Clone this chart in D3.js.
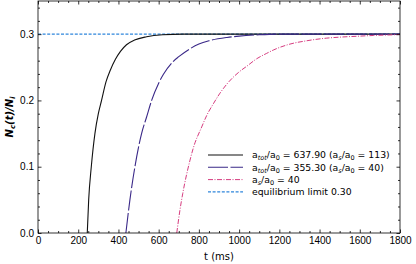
<!DOCTYPE html>
<html>
<head>
<meta charset="utf-8">
<script src="https://cdn.jsdelivr.net/npm/d3@7"></script>
<style>
  body { margin: 0; background: #fff; }
  svg { font-family: "DejaVu Sans", sans-serif; }
</style>
</head>
<body>
<div id="chart"></div>
<script>
// Values: [t (ms), Nc/Ni]
const curveTot637 = [[245,0],[252,0.05],[265,0.1],[283,0.15],[300,0.18],[316,0.2],[338,0.228],[360,0.246],[385,0.262],[410,0.274],[440,0.284],[480,0.291],[540,0.296],[620,0.299],[720,0.3],[1800,0.3]];
const curveTot355 = [[437,0],[457,0.05],[482,0.1],[515,0.15],[540,0.175],[565,0.2],[600,0.226],[623,0.239],[673,0.259],[700,0.266],[756,0.278],[800,0.285],[850,0.29],[940,0.295],[1000,0.297],[1100,0.299],[1200,0.3],[1800,0.3]];
const curveAs40 = [[690,0],[706,0.035],[720,0.06],[756,0.11],[772,0.128],[814,0.16],[840,0.178],[872,0.195],[905,0.211],[940,0.225],[1000,0.243],[1040,0.252],[1088,0.263],[1137,0.271],[1170,0.276],[1253,0.285],[1336,0.29],[1436,0.294],[1502,0.2955],[1600,0.297],[1667,0.298],[1767,0.299],[1800,0.2995]];
const equilibrium = 0.30;

const xTicks = [0,200,400,600,800,1000,1200,1400,1600,1800];
const yTicks = [0.0,0.1,0.2,0.3];

// Chart geometry
const W = 416, H = 264;
const margin = { top: 1, right: 16, bottom: 31, left: 38 };
const width = W - margin.left - margin.right;
const height = H - margin.top - margin.bottom;

const svg = d3.select("#chart").append("svg")
    .attr("width", W).attr("height", H);
const g = svg.append("g")
    .attr("transform", `translate(${margin.left},${margin.top})`);

const x = d3.scaleLinear().domain([0, 1800]).range([0, width]);
const y = d3.scaleLinear().domain([0, 0.35]).range([height, 0]);

g.append("clipPath").attr("id", "clip")
  .append("rect").attr("width", width).attr("height", height);

const line = d3.line().x(d => x(d[0])).y(d => y(d[1])).curve(d3.curveMonotoneX);
const plot = g.append("g").attr("clip-path", "url(#clip)");

// series: style per curve
const series = [
  { data: curveTot637, color: "#111111", dash: null, w: 1.1 },
  { data: curveTot355, color: "#3a2888", dash: "20,2.5", w: 1.1 },
  { data: curveAs40, color: "#d63c7f", dash: "5,1.5,1,1.5", w: 1 }
];
const eqStyle = { color: "#2f86dc", dash: "3,1.6", w: 1.1 };

plot.append("line")
    .attr("x1", 0).attr("x2", width)
    .attr("y1", y(equilibrium)).attr("y2", y(equilibrium))
    .attr("stroke", eqStyle.color).attr("stroke-width", eqStyle.w)
    .attr("stroke-dasharray", eqStyle.dash);

series.forEach(s => {
  plot.append("path")
      .datum(s.data)
      .attr("d", line)
      .attr("fill", "none")
      .attr("stroke", s.color)
      .attr("stroke-width", s.w)
      .attr("stroke-dasharray", s.dash);
});

// Axes with inward ticks on all four sides
const minorX = d3.range(0, 1801, 50).filter(v => v % 200 !== 0);
const minorY = d3.range(0, 0.351, 0.02).filter(v => Math.abs(v * 10 - Math.round(v * 10)) > 1e-6);

function styleAxis(sel) {
  sel.select(".domain").remove();
  sel.selectAll("line").attr("stroke", "#000").attr("stroke-width", 0.8);
  sel.selectAll("text").attr("fill", "#000").style("font-size", "10px");
}

g.append("g").attr("transform", `translate(0,${height})`)
  .call(d3.axisBottom(x).tickValues(xTicks).tickFormat(d3.format("d")).tickSize(-3.5).tickPadding(4))
  .call(styleAxis);
g.append("g").attr("transform", `translate(0,${height})`)
  .call(d3.axisBottom(x).tickValues(minorX).tickFormat("").tickSize(-2))
  .call(styleAxis);
g.append("g")
  .call(d3.axisTop(x).tickValues(xTicks).tickFormat("").tickSize(-3.5))
  .call(styleAxis);
g.append("g")
  .call(d3.axisTop(x).tickValues(minorX).tickFormat("").tickSize(-2))
  .call(styleAxis);

g.append("g")
  .call(d3.axisLeft(y).tickValues(yTicks).tickFormat(d3.format(".1f")).tickSize(-3.5).tickPadding(4))
  .call(styleAxis);
g.append("g")
  .call(d3.axisLeft(y).tickValues(minorY).tickFormat("").tickSize(-2))
  .call(styleAxis);
g.append("g").attr("transform", `translate(${width},0)`)
  .call(d3.axisRight(y).tickValues(yTicks).tickFormat("").tickSize(-3.5))
  .call(styleAxis);
g.append("g").attr("transform", `translate(${width},0)`)
  .call(d3.axisRight(y).tickValues(minorY).tickFormat("").tickSize(-2))
  .call(styleAxis);

// Frame
g.append("rect")
  .attr("width", width).attr("height", height)
  .attr("fill", "none").attr("stroke", "#000").attr("stroke-width", 0.8);

// Axis labels
g.append("text")
  .attr("x", width / 2).attr("y", height + 27)
  .attr("text-anchor", "middle")
  .style("font-size", "10px")
  .text("t (ms)");

const yl = svg.append("text")
  .attr("transform", `translate(13,${margin.top + height / 2}) rotate(-90)`)
  .attr("text-anchor", "middle")
  .style("font-size", "10px")
  .style("font-style", "italic")
  .style("font-weight", "bold");
yl.append("tspan").text("N");
yl.append("tspan").attr("dy", 2).style("font-size", "7px").text("c");
yl.append("tspan").attr("dy", -2).text("(t)/N");
yl.append("tspan").attr("dy", 2).style("font-size", "7px").text("i");

// Legend
const legendItems = [
  { s: series[0], parts: [["a"],["tot","sub",true],["/a"],["0","sub"],[" = 637.90 (a"],["s","sub",true],["/a"],["0","sub"],[" = 113)"]] },
  { s: series[1], parts: [["a"],["tot","sub",true],["/a"],["0","sub"],[" = 355.30 (a"],["s","sub",true],["/a"],["0","sub"],[" = 40)"]] },
  { s: series[2], parts: [["a"],["s","sub",true],["/a"],["0","sub"],[" = 40"]] },
  { s: eqStyle, parts: [["equilibrium limit 0.30"]] }
];

const legend = svg.append("g").attr("transform", "translate(208,155)");
legendItems.forEach((it, i) => {
  const row = legend.append("g").attr("transform", `translate(0,${i * 12.3})`);
  row.append("line")
    .attr("x1", 0).attr("x2", 35).attr("y1", 0).attr("y2", 0)
    .attr("stroke", it.s.color).attr("stroke-width", it.s.w)
    .attr("stroke-dasharray", it.s.dash);
  const t = row.append("text").attr("x", 44).attr("y", 3.3)
    .style("font-size", "9.3px");
  let shifted = false;
  it.parts.forEach(p => {
    const ts = t.append("tspan").text(p[0]);
    if (p[1] === "sub") {
      ts.style("font-size", "6.5px").attr("dy", shifted ? 0 : 2);
      shifted = true;
    } else if (shifted) {
      ts.attr("dy", -2);
      shifted = false;
    }
    if (p[2]) ts.style("font-style", "italic");
  });
});
</script>
</body>
</html>
